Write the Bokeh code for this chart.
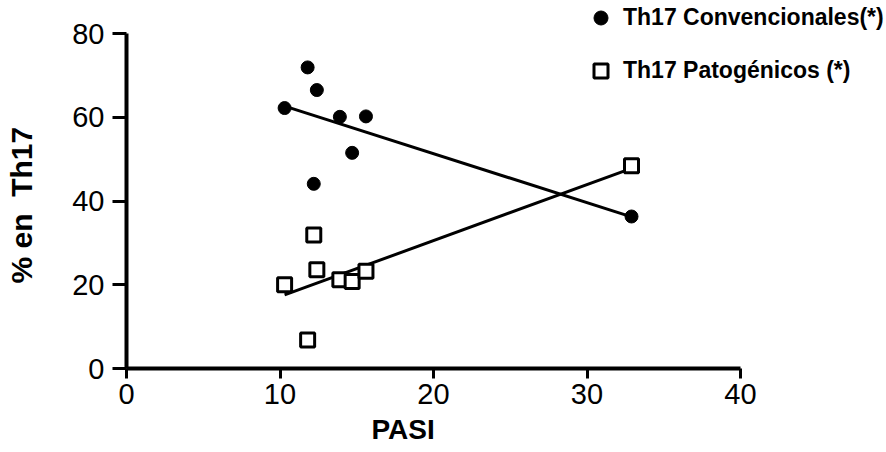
import numpy as np
from bokeh.plotting import figure
from bokeh.models import Range1d, Legend, LegendItem, FixedTicker, Title
from bokeh.embed import file_html
from bokeh.resources import INLINE

# ---- data ----
pasi = [10.3, 11.8, 12.2, 12.4, 13.9, 14.7, 15.6, 32.9]
convencionales = [62.2, 71.9, 44.1, 66.5, 60.1, 51.5, 60.2, 36.3]
patogenicos = [20.0, 6.8, 31.9, 23.6, 21.2, 20.8, 23.2, 48.4]
x_ticks = [0, 10, 20, 30, 40]
y_ticks = [0, 20, 40, 60, 80]
label_conv = "Th17 Convencionales(*)"
label_pat = "Th17 Patogénicos (*)"
x_title = "PASI"
y_title = "% en\u00a0 Th17"

FONT = "Liberation Sans"

# frame: x=0 at px 126, x=40 at px 740; y=0 at px 368, y=80 at px 33.
# The frame is extended to the top/right edges so the legend is not clipped;
# the axes are bounded to the data extent.
x_end = 40 * (886 - 126) / (740 - 126)
y_end = 80 * 368 / (368 - 33)

p = figure(width=886, height=452, output_backend="svg", toolbar_location=None,
           x_range=Range1d(0, x_end), y_range=Range1d(0, y_end),
           min_border_left=126, min_border_right=0,
           min_border_top=0, min_border_bottom=84)
p.outline_line_color = None
p.xgrid.visible = False
p.ygrid.visible = False
p.background_fill_color = "white"
p.border_fill_color = "white"

# regression lines (least squares fit of the data)
xs = np.array(pasi)
for ys in (convencionales, patogenicos):
    m, b = np.polyfit(xs, np.array(ys), 1)
    xl = [xs.min(), xs.max()]
    p.line(xl, [m * xl[0] + b, m * xl[1] + b], line_color="black", line_width=3)

r_conv = p.scatter(pasi, convencionales, marker="circle", size=13,
                   fill_color="black", line_color="black", line_width=1)
r_pat = p.scatter(pasi, patogenicos, marker="square", size=14,
                  fill_color="white", line_color="black", line_width=3)

for ax in (p.xaxis[0], p.yaxis[0]):
    ax.axis_line_width = 4
    ax.axis_line_color = "black"
    ax.major_tick_line_width = 3
    ax.major_tick_line_color = "black"
    ax.major_tick_in = 0
    ax.minor_tick_line_color = None
    ax.major_label_text_font = FONT
    ax.major_label_text_font_size = "29px"
    ax.major_label_text_color = "black"

p.xaxis.ticker = FixedTicker(ticks=x_ticks)
p.yaxis.ticker = FixedTicker(ticks=y_ticks)
p.xaxis.bounds = (0, 40)
p.yaxis.bounds = (0, 80)
p.xaxis.major_tick_out = 10
p.yaxis.major_tick_out = 14
p.xaxis.major_label_standoff = 5
p.yaxis.major_label_standoff = 8

# axis titles as panel titles so they can be positioned like the reference
p.add_layout(Title(text=" ", text_font_size="10px", standoff=18), "left")
p.add_layout(Title(text=y_title, align="left", offset=85, vertical_align="middle",
                   standoff=0, text_font=FONT, text_font_size="30px",
                   text_font_style="bold", text_color="black"), "left")
p.add_layout(Title(text=x_title, align="left", offset=245, vertical_align="bottom",
                   standoff=10, text_font=FONT, text_font_size="28px",
                   text_font_style="bold", text_color="black"), "below")

legend = Legend(items=[LegendItem(label=label_conv, renderers=[r_conv]),
                       LegendItem(label=label_pat, renderers=[r_pat])],
                location=(457, 280), orientation="vertical",
                glyph_width=35, glyph_height=35, label_height=35,
                spacing=18, padding=0, margin=0, label_standoff=5,
                label_text_font=FONT, label_text_font_size="23px",
                label_text_font_style="bold", label_text_color="black",
                border_line_color=None, background_fill_alpha=0)
p.add_layout(legend, "center")

open("out.html", "w").write(file_html(p, INLINE))
